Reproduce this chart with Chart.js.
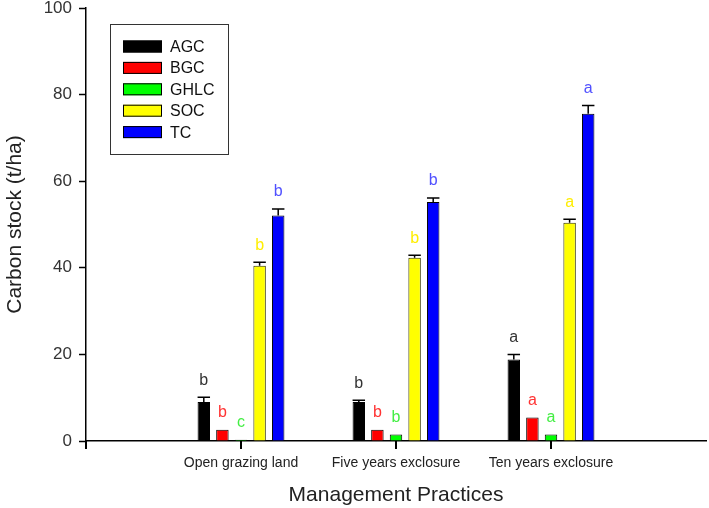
<!DOCTYPE html>
<html>
<head>
<meta charset="utf-8">
<script src="https://cdn.jsdelivr.net/npm/chart.js@4"></script>
<style>
  html, body { margin: 0; padding: 0; background: #fff; }
  #wrap { width: 709px; height: 508px; }
</style>
</head>
<body>
<div id="wrap"><canvas id="c" width="709" height="508"></canvas></div>
<script>
// ---- data ----
const categories = ['Open grazing land', 'Five years exclosure', 'Ten years exclosure'];
const seriesNames = ['AGC', 'BGC', 'GHLC', 'SOC', 'TC'];
const AGC  = [9.0, 9.0, 18.8];
const BGC  = [2.6, 2.6, 5.4];
const GHLC = [0.3, 1.5, 1.5];
const SOC  = [40.5, 42.3, 50.4];
const TC   = [52.1, 55.2, 75.6];
const AGC_err  = [1.1, 0.4, 1.2];
const BGC_err  = [0, 0, 0];
const GHLC_err = [0, 0, 0];
const SOC_err  = [0.8, 0.6, 0.8];
const TC_err   = [1.5, 0.9, 1.9];
const AGC_letters  = ['b', 'b', 'a'];
const BGC_letters  = ['b', 'b', 'a'];
const GHLC_letters = ['c', 'b', 'a'];
const SOC_letters  = ['b', 'b', 'a'];
const TC_letters   = ['b', 'b', 'a'];
const yTicks = [0, 20, 40, 60, 80, 100];

// ---- styles ----
const fills = ['#000000', '#ff0000', '#00ff00', '#ffff00', '#0000ff'];
const borders = ['#000000', '#000000', '#000000', '#333300', '#000000'];
const letterColors = ['#333333', '#ff3333', '#44ee44', '#ffee00', '#5050ff'];
const FONT = "'Liberation Sans', Arial, sans-serif";

const values = [AGC, BGC, GHLC, SOC, TC];
const errors = [AGC_err, BGC_err, GHLC_err, SOC_err, TC_err];
const letters = [AGC_letters, BGC_letters, GHLC_letters, SOC_letters, TC_letters];

// pad an empty category at each end so the groups sit at 1/4, 2/4, 3/4 of the axis
const labels = [''].concat(categories, ['']);
const pad = arr => [null].concat(arr, [null]);

const datasets = seriesNames.map((name, i) => ({
  label: name,
  data: pad(values[i]),
  errs: pad(errors[i]),
  letters: pad(letters[i]),
  letterColor: letterColors[i],
  backgroundColor: fills[i],
  borderColor: borders[i],
  borderWidth: 1,
  borderSkipped: 'bottom',
  categoryPercentage: 0.6,
  barPercentage: 0.67
}));

const errPlugin = {
  id: 'errAndLetters',
  afterDatasetsDraw(chart) {
    const ctx = chart.ctx;
    const y = chart.scales.y;
    ctx.save();
    chart.data.datasets.forEach((ds, i) => {
      const meta = chart.getDatasetMeta(i);
      meta.data.forEach((el, j) => {
        const v = ds.data[j];
        if (v === null || v === undefined) return;
        const e = ds.errs[j] || 0;
        const w = el.width;
        const topPix = y.getPixelForValue(v + e);
        if (e > 0) {
          ctx.strokeStyle = '#000';
          ctx.lineWidth = 1.5;
          ctx.beginPath();
          ctx.moveTo(el.x, el.y);
          ctx.lineTo(el.x, topPix);
          ctx.moveTo(el.x - w / 2, topPix);
          ctx.lineTo(el.x + w / 2, topPix);
          ctx.stroke();
        }
        ctx.fillStyle = ds.letterColor;
        ctx.font = '16px ' + FONT;
        ctx.textAlign = 'center';
        ctx.textBaseline = 'middle';
        ctx.fillText(ds.letters[j], el.x, topPix - 17);
      });
    });
    ctx.restore();
  }
};

// category tick marks below the x axis, at the x scale's own tick pixels
const xTickPlugin = {
  id: 'xTicks',
  afterDraw(chart) {
    const ctx = chart.ctx;
    const x = chart.scales.x;
    const yb = chart.chartArea.bottom;
    ctx.save();
    ctx.fillStyle = '#000';
    for (let i = 0; i < x.ticks.length - 1; i++) {
      const px = Math.round(x.getPixelForTick(i));
      ctx.fillRect(px - 1, yb, 2, 8);
    }
    ctx.restore();
  }
};

const legendPlugin = {
  id: 'boxLegend',
  afterDraw(chart) {
    const ctx = chart.ctx;
    const a = chart.chartArea;
    const bx = a.left + 24, by = a.top + 16, bw = 118, bh = 130;
    ctx.save();
    ctx.strokeStyle = '#333';
    ctx.lineWidth = 1;
    ctx.strokeRect(bx + 0.5, by + 0.5, bw, bh);
    chart.data.datasets.forEach((ds, i) => {
      const cy = by + 22.5 + i * 21.4;
      ctx.fillStyle = ds.backgroundColor;
      ctx.fillRect(bx + 13, cy - 6, 39, 12);
      ctx.strokeStyle = '#000';
      ctx.strokeRect(bx + 13.5, cy - 5.5, 38, 11);
      ctx.fillStyle = '#111';
      ctx.font = '16px ' + FONT;
      ctx.textAlign = 'left';
      ctx.textBaseline = 'middle';
      ctx.fillText(ds.label, bx + 60, cy + 1);
    });
    ctx.restore();
  }
};

new Chart(document.getElementById('c'), {
  type: 'bar',
  data: { labels: labels, datasets: datasets },
  plugins: [errPlugin, xTickPlugin, legendPlugin],
  options: {
    responsive: false,
    animation: false,
    devicePixelRatio: 1,
    layout: { autoPadding: false, padding: { top: 8, right: 3, left: 0, bottom: 0 } },
    plugins: { legend: { display: false }, tooltip: { enabled: false } },
    scales: {
      x: {
        type: 'category',
        offset: false,
        afterFit(s) { s.height = 67; s.paddingLeft = 0; s.paddingRight = 0; },
        grid: {
          offset: false,
          drawOnChartArea: false,
          drawTicks: true,
          tickLength: 7,
          tickWidth: 2,
          tickColor: 'rgba(0,0,0,0)'
        },
        border: { display: true, color: '#000', width: 1.5 },
        ticks: {
          autoSkip: false,
          maxRotation: 0,
          padding: 7,
          color: '#222',
          font: { family: FONT, size: 14 }
        },
        title: {
          display: true,
          text: 'Management Practices',
          color: '#222',
          font: { family: FONT, size: 21 },
          padding: { top: 0, bottom: 0 }
        }
      },
      y: {
        min: 0,
        max: 100,
        afterFit(s) { s.width = 86; s.paddingTop = 0; s.paddingBottom = 0; },
        afterBuildTicks(s) { s.ticks = yTicks.map(v => ({ value: v })); },
        grid: {
          drawOnChartArea: false,
          drawTicks: true,
          tickLength: 7,
          tickWidth: 1.5,
          tickColor: '#000'
        },
        border: { display: true, color: '#000', width: 1.5 },
        ticks: {
          padding: 7,
          color: '#333',
          font: { family: FONT, size: 17 }
        },
        title: {
          display: true,
          text: 'Carbon stock (t/ha)',
          color: '#222',
          font: { family: FONT, size: 21 },
          padding: { top: 3, bottom: 0 }
        }
      }
    }
  }
});
</script>
</body>
</html>
